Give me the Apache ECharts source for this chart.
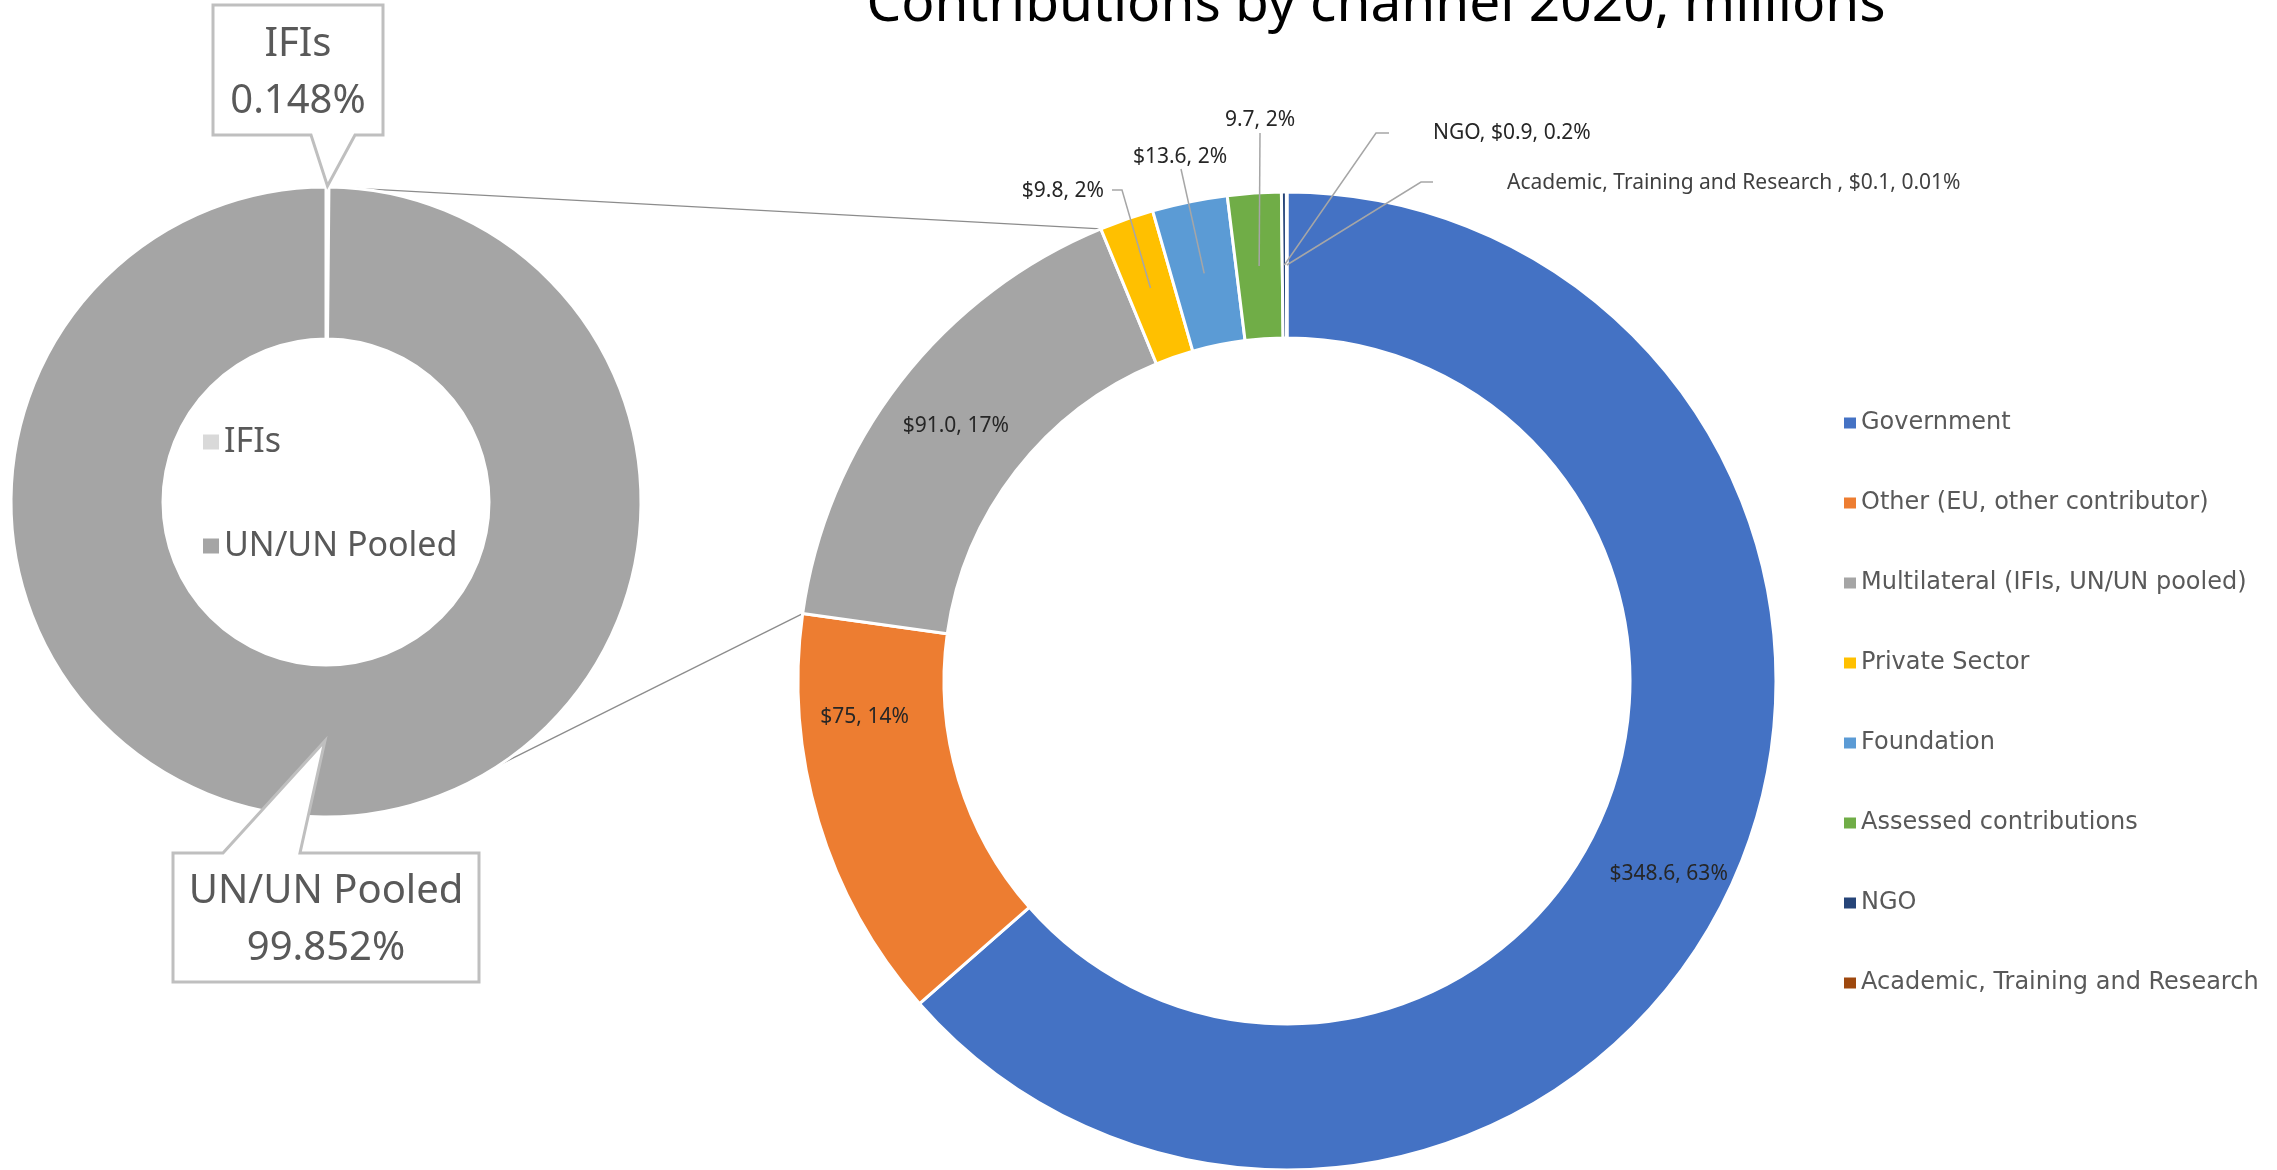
<!DOCTYPE html>
<html>
<head>
<meta charset="utf-8">
<script src="https://cdn.jsdelivr.net/npm/echarts@6.0.0/dist/echarts.min.js"></script>
<style>
  html, body { margin: 0; padding: 0; background: #fff; }
  #root { width: 2277px; height: 1170px; }
</style>
</head>
<body>
<div id="root"></div>
<script>
// contributions by channel, millions
const channelNames = [
  'Government',
  'Other (EU, other contributor)',
  'Multilateral (IFIs, UN/UN pooled)',
  'Private Sector',
  'Foundation',
  'Assessed contributions',
  'NGO',
  'Academic, Training and Research'
]
const channelValues = [348.6, 75, 91.0, 9.8, 13.6, 9.7, 0.9, 0.1]
const channelLabels = [
  '$348.6, 63%',
  '$75, 14%',
  '$91.0, 17%',
  '$9.8, 2%',
  '$13.6, 2%',
  '9.7, 2%',
  'NGO, $0.9, 0.2%',
  'Academic, Training and Research , $0.1, 0.01%'
]
// breakdown of the multilateral slice, percent
const multilateralNames = ['IFIs', 'UN/UN Pooled']
const multilateralShares = [0.148, 99.852]

const channelColors = ['#4472c4', '#ed7d31', '#a5a5a5', '#ffc000', '#5b9bd5', '#70ad47', '#264478', '#9e480e']
const multilateralColors = ['#d9d9d9', '#a5a5a5']

const mainCenter = [1287, 681]
const mainRadius = [343, 489]
const subCenter = [326, 502]
const subRadius = [163, 315]

const total = channelValues.reduce((a, b) => a + b, 0)
const startFrac = []
let acc = 0
channelValues.forEach(v => { startFrac.push(acc / total); acc += v })

const subTotal = multilateralShares.reduce((a, b) => a + b, 0)
const subStart = []
acc = 0
multilateralShares.forEach(v => { subStart.push(acc / subTotal); acc += v })

// point at radius r, frac of a turn clockwise from 12 o'clock
const polar = (center, r, frac) => {
  const a = frac * 2 * Math.PI
  return [center[0] + r * Math.sin(a), center[1] - r * Math.cos(a)]
}
const midRing = i => polar(mainCenter, (mainRadius[0] + mainRadius[1]) / 2, startFrac[i] + channelValues[i] / total / 2)

// where the small-slice labels sit, and the bend of their leader lines
const calloutSpots = {
  3: { x: 1104, y: 191, align: 'right', bend: [[1122, 190], [1112, 190]] },
  4: { x: 1180, y: 157, align: 'center', bend: [[1181, 169]] },
  5: { x: 1260, y: 120, align: 'center', bend: [[1260, 133]] },
  6: { x: 1433, y: 133, align: 'left', bend: [[1376, 133], [1389, 133]] },
  7: { x: 1507, y: 183, align: 'left', bend: [[1421, 182], [1433, 182]] }
}
const insideNudge = { 0: [0, 20], 1: [-21, -84], 2: [0, 2] }

// callout boxes of the small donut
const subCallouts = [
  { box: [213, 5, 383, 135], base: [311, 355], edge: 'bottom', tipR: subRadius[1] + 1 },
  { box: [173, 853, 479, 982], base: [223, 300], edge: 'top', tipR: (subRadius[0] + subRadius[1]) / 2 }
]

const graphics = []

// connector lines between the two donuts
const connectors = [
  [polar(subCenter, subRadius[1], 1.3 / 360), polar(mainCenter, mainRadius[1], startFrac[3])],
  [polar(subCenter, subRadius[1], 146.3 / 360), polar(mainCenter, mainRadius[1], startFrac[2])]
]
connectors.forEach(([a, b]) => {
  graphics.push({
    type: 'line',
    z: 1,
    shape: { x1: a[0], y1: a[1], x2: b[0], y2: b[1] },
    style: { stroke: '#8c8c8c', lineWidth: 1.3 }
  })
})

// leader lines for the thin slices, drawn above the ring
Object.keys(calloutSpots).forEach(k => {
  const i = +k
  graphics.push({
    type: 'polyline',
    z: 5,
    shape: { points: [midRing(i)].concat(calloutSpots[i].bend) },
    style: { stroke: '#a6a6a6', lineWidth: 1.5, fill: null }
  })
})

subCallouts.forEach((c, i) => {
  const [x1, y1, x2, y2] = c.box
  const tip = polar(subCenter, c.tipR, subStart[i] + multilateralShares[i] / subTotal / 2)
  const points = c.edge === 'bottom'
    ? [[x1, y1], [x2, y1], [x2, y2], [c.base[1], y2], tip, [c.base[0], y2], [x1, y2]]
    : [[x1, y1], [c.base[0], y1], tip, [c.base[1], y1], [x2, y1], [x2, y2], [x1, y2]]
  graphics.push({
    type: 'polygon',
    z: 10,
    shape: { points },
    style: { fill: '#fff', stroke: '#bfbfbf', lineWidth: 3, lineJoin: 'miter' }
  })
  const pct = (multilateralShares[i] / subTotal * 100).toFixed(3)
  graphics.push({
    type: 'text',
    z: 11,
    style: {
      text: multilateralNames[i] + '\n' + pct + '%',
      x: (x1 + x2) / 2,
      y: (y1 + y2) / 2 + 3,
      align: 'center',
      verticalAlign: 'middle',
      fontFamily: 'Noto Sans',
      fontSize: 40,
      lineHeight: 57,
      fill: '#595959'
    }
  })
})

const option = {
  animation: false,
  backgroundColor: '#fff',
  title: {
    text: 'Contributions by channel 2020, millions',
    left: 1376,
    top: -22,
    textAlign: 'center',
    padding: 0,
    textStyle: { fontFamily: 'Noto Sans', fontSize: 55, fontWeight: 'normal', color: '#000' }
  },
  legend: [
    {
      data: channelNames,
      orient: 'vertical',
      left: 1844,
      top: 411,
      padding: 0,
      itemWidth: 12,
      itemHeight: 11,
      itemGap: 56,
      icon: 'rect',
      itemStyle: { borderWidth: 0 },
      selectedMode: false,
      textStyle: { fontFamily: 'DejaVu Sans', fontSize: 24, color: '#595959' }
    },
    {
      data: multilateralNames,
      orient: 'vertical',
      left: 203,
      top: 425,
      padding: 0,
      itemWidth: 16,
      itemHeight: 15,
      itemGap: 70,
      icon: 'rect',
      itemStyle: { borderWidth: 0 },
      selectedMode: false,
      textStyle: { fontFamily: 'Noto Sans', fontSize: 34, color: '#595959' }
    }
  ],
  series: [
    {
      type: 'pie',
      name: 'channel',
      center: mainCenter,
      radius: mainRadius,
      startAngle: 90,
      clockwise: true,
      avoidLabelOverlap: false,
      itemStyle: { borderColor: '#fff', borderWidth: 3 },
      emphasis: { disabled: true },
      label: {
        formatter: p => channelLabels[p.dataIndex],
        fontFamily: 'Noto Sans',
        fontSize: 21,
        color: '#262626'
      },
      labelLine: { show: false },
      labelLayout: params => {
        const i = params.dataIndex
        const spot = calloutSpots[i]
        if (spot) {
          return { x: spot.x, y: spot.y, align: spot.align, verticalAlign: 'middle' }
        }
        const n = insideNudge[i] || [0, 0]
        return { dx: n[0], dy: n[1] }
      },
      data: channelNames.map((name, i) => ({
        name,
        value: channelValues[i],
        itemStyle: { color: channelColors[i] },
        label: {
          position: calloutSpots[i] ? 'outside' : 'inside',
          color: i === 7 ? '#404040' : '#262626'
        }
      }))
    },
    {
      type: 'pie',
      name: 'multilateral',
      center: subCenter,
      radius: subRadius,
      startAngle: 90,
      clockwise: true,
      itemStyle: { borderColor: '#fff', borderWidth: 3 },
      emphasis: { disabled: true },
      label: { show: false },
      labelLine: { show: false },
      data: multilateralNames.map((name, i) => ({
        name,
        value: multilateralShares[i],
        itemStyle: { color: multilateralColors[i] }
      }))
    }
  ],
  graphic: { elements: graphics }
}

const chart = echarts.init(document.getElementById('root'))
chart.setOption(option)
</script>
</body>
</html>
